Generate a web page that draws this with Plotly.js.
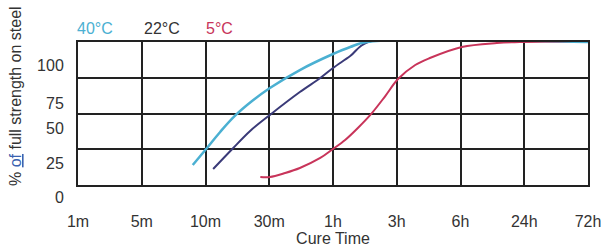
<!DOCTYPE html>
<html><head><meta charset="utf-8">
<script src="https://cdn.plot.ly/plotly-3.0.1.min.js"></script>
<style>html,body{margin:0;padding:0;background:#fff;} #chart{width:606px;height:251px;}</style>
</head><body><div id="chart"></div>
<script>
// Category axis (cure time), drawn at equal spacing
const xTickLabels = ['1m','5m','10m','30m','1h','3h','6h','24h','72h'];
const xTickPos = [0,1,2,3,4,5,6,7,8];
// % of full strength grid
const yGridVals = [0,25,50,75,100];
const yTickLabels = ['0','25','50','75','100'];
const yLabelPos = [14,48,83,108,146];

const legendNames = ['40°C','22°C','5°C'];

// 40°C
const x40 = [1.80,2.01,2.23,2.46,2.73,3.01,3.48,4.00,4.27,4.53,8.00];
const y40 = [14.0,25.2,37.1,48.3,58.7,67.8,80.4,91.6,96.5,100,100];
// 22°C
const x22 = [2.12,2.42,2.70,3.01,3.48,3.80,4.00,4.27,4.55,8.00];
const y22 = [11.2,25.2,37.8,49.0,65.0,74.8,81.8,90.2,100,100];
// 5°C
const x5 = [2.86,3.01,3.25,3.48,3.80,4.00,4.19,4.39,4.61,4.82,5.02,5.29,5.52,6.02,6.57,6.93,8.00];
const y5 = [5.6,5.6,8.4,11.9,18.9,25.2,31.5,39.9,50.3,62.2,74.1,83.9,88.8,96.5,99.3,100,100];

const colors = {c40:'#4bb0d2', c22:'#3a3a78', c5:'#c8345a'};
const fontFam = '"Liberation Sans", Arial, sans-serif';

const traces = [
  {x:[], y:[], xaxis:'x2', yaxis:'y2', mode:'lines', showlegend:false, hoverinfo:'skip'},
  {x:x5, y:y5, mode:'lines', line:{color:colors.c5, width:2, shape:'spline', smoothing:1}, name:legendNames[2], showlegend:false, hoverinfo:'skip'},
  {x:x22, y:y22, mode:'lines', line:{color:colors.c22, width:2, shape:'spline', smoothing:1}, name:legendNames[1], showlegend:false, hoverinfo:'skip'},
  {x:x40, y:y40, mode:'lines', line:{color:colors.c40, width:2.5, shape:'spline', smoothing:1}, name:legendNames[0], showlegend:false, hoverinfo:'skip'}
];

const layout = {
  width:606, height:251,
  margin:{l:78, r:18, t:42, b:40},
  paper_bgcolor:'#fff', plot_bgcolor:'rgba(0,0,0,0)',
  font:{family:fontFam, size:16, color:'#333'},
  showlegend:false,
  xaxis:{
    range:[0,8], domain:[0,1], anchor:'y',
    tickvals:xTickPos, ticktext:xTickLabels,
    ticks:'outside', ticklen:21, tickcolor:'rgba(0,0,0,0)',
    showgrid:false, zeroline:false,
    showline:true, mirror:true, linecolor:'#222', linewidth:2,
    minor:{tickvals:xTickPos, showgrid:true, gridcolor:'#222', gridwidth:2, ticks:''},
    layer:'below traces',
    title:{text:'Cure Time', standoff:3, font:{size:16, color:'#333'}},
    tickfont:{size:16, color:'#333'}
  },
  yaxis:{
    range:[0,100], domain:[26/169,1], anchor:'x',
    showticklabels:false, ticks:'',
    showgrid:false, zeroline:false,
    showline:true, mirror:true, linecolor:'#222', linewidth:2,
    minor:{tickvals:yGridVals, showgrid:true, gridcolor:'#222', gridwidth:2, ticks:''},
    layer:'below traces'
  },
  xaxis2:{range:[0,1], domain:[0,1], anchor:'y2', visible:false, showgrid:false, zeroline:false},
  yaxis2:{
    range:[0,169], autorange:false, domain:[0,1], anchor:'x2', side:'left',
    tickvals:yLabelPos, ticktext:yTickLabels,
    ticks:'outside', ticklen:10, tickcolor:'rgba(0,0,0,0)',
    showgrid:false, zeroline:false, showline:false,
    tickfont:{size:16, color:'#333'}
  },
  annotations:[
    {xref:'paper', yref:'paper', x:(15-78)/510, y:(211-96)/169, text:'% <span style="color:#3a62b0"><u>of</u></span> full strength on steel', textangle:-90, showarrow:false, font:{size:16, color:'#333'}, xanchor:'center', yanchor:'middle'},
    {xref:'paper', yref:'paper', x:(95-78)/510, y:(211-28)/169, text:legendNames[0], showarrow:false, font:{size:16, color:colors.c40}, xanchor:'center', yanchor:'middle'},
    {xref:'paper', yref:'paper', x:(162-78)/510, y:(211-28)/169, text:legendNames[1], showarrow:false, font:{size:16, color:'#333'}, xanchor:'center', yanchor:'middle'},
    {xref:'paper', yref:'paper', x:(219-78)/510, y:(211-28)/169, text:legendNames[2], showarrow:false, font:{size:16, color:colors.c5}, xanchor:'center', yanchor:'middle'}
  ]
};

Plotly.newPlot('chart', traces, layout, {staticPlot:true, displayModeBar:false});
</script></body></html>
